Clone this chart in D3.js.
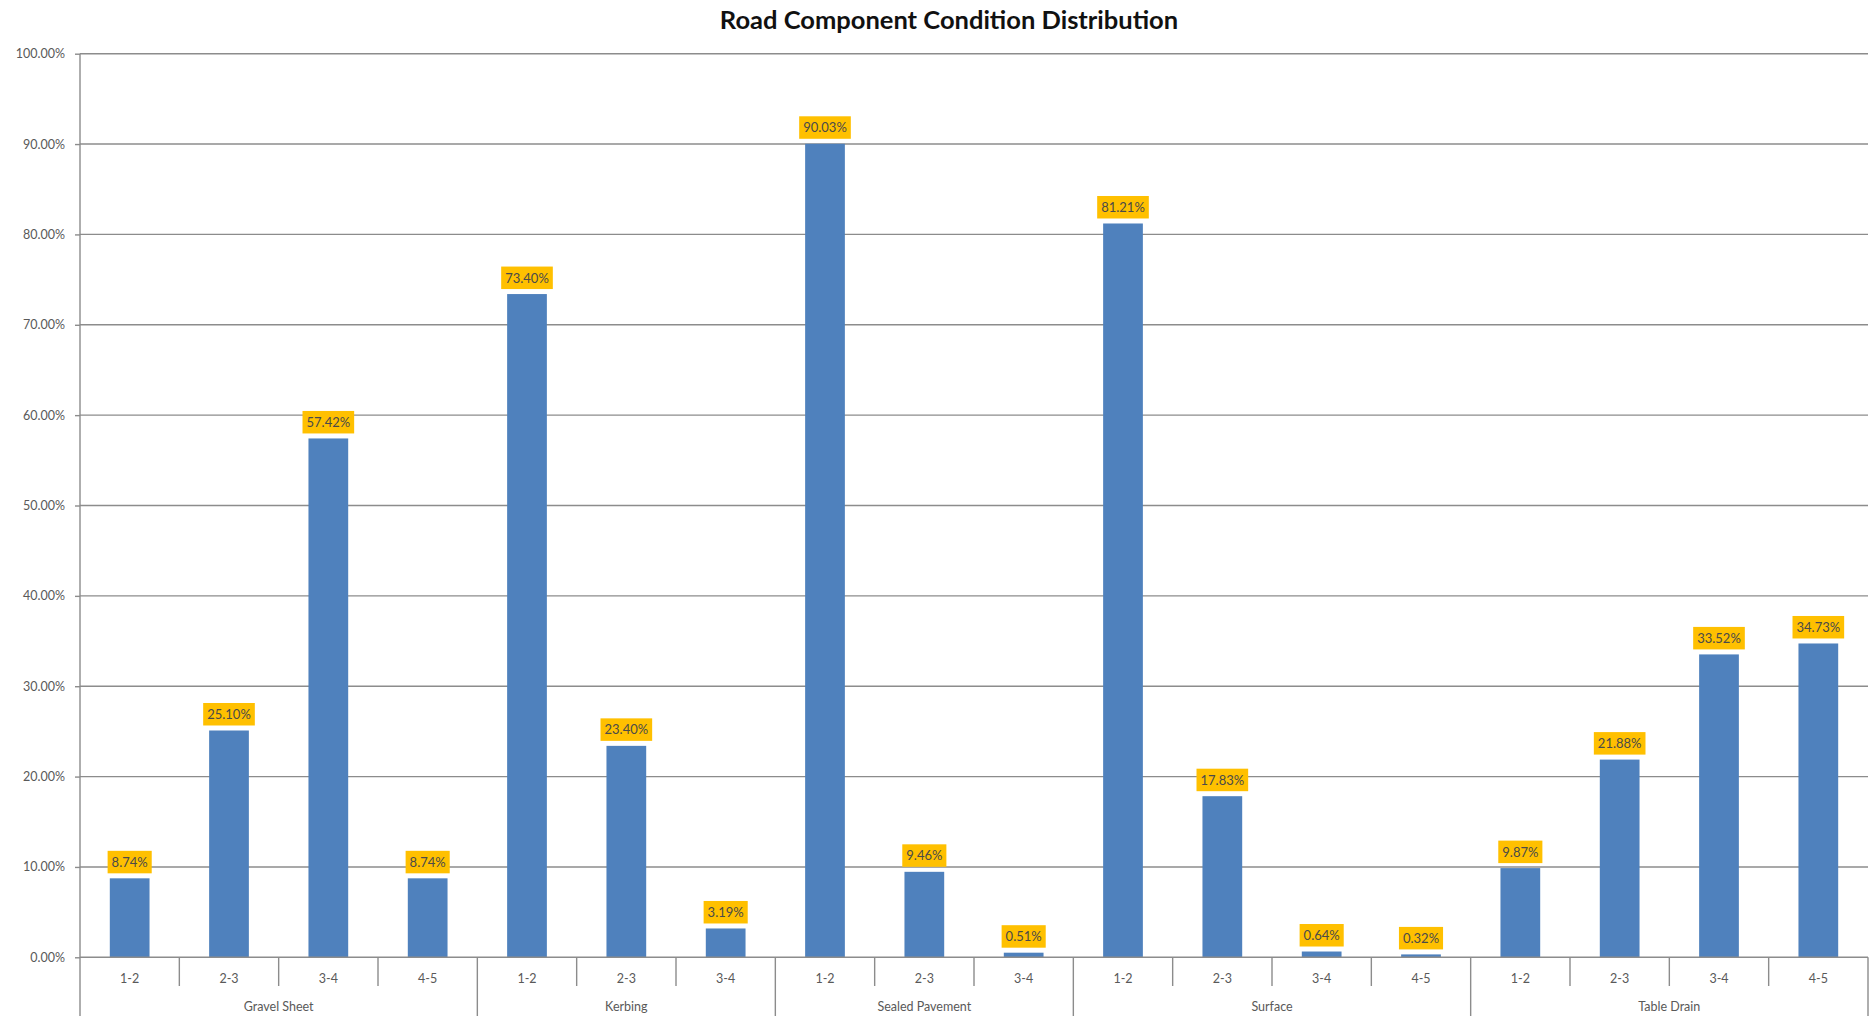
<!DOCTYPE html>
<html><head><meta charset="utf-8">
<script src="https://cdn.jsdelivr.net/npm/d3@7"></script>
<style>
html,body{margin:0;padding:0;background:#fff;}
svg{display:block;}
</style></head>
<body>
<svg id="chart" width="1870" height="1021"></svg>
<script>
const title = "Road Component Condition Distribution";
const groups = ["Gravel Sheet", "Kerbing", "Sealed Pavement", "Surface", "Table Drain"];
const gravelCats = ["1-2", "2-3", "3-4", "4-5"];
const gravelVals = [8.74, 25.10, 57.42, 8.74];
const kerbingCats = ["1-2", "2-3", "3-4"];
const kerbingVals = [73.40, 23.40, 3.19];
const sealedCats = ["1-2", "2-3", "3-4"];
const sealedVals = [90.03, 9.46, 0.51];
const surfaceCats = ["1-2", "2-3", "3-4", "4-5"];
const surfaceVals = [81.21, 17.83, 0.64, 0.32];
const drainCats = ["1-2", "2-3", "3-4", "4-5"];
const drainVals = [9.87, 21.88, 33.52, 34.73];
const yTicks = [0, 10, 20, 30, 40, 50, 60, 70, 80, 90, 100];

const groupCats = [gravelCats, kerbingCats, sealedCats, surfaceCats, drainCats];
const groupVals = [gravelVals, kerbingVals, sealedVals, surfaceVals, drainVals];

const data = [];
groups.forEach((g, gi) => {
  groupCats[gi].forEach((c, ci) => {
    data.push({group: g, cat: c, value: groupVals[gi][ci], key: g + "|" + c});
  });
});

const svg = d3.select("#chart");
const pL = 80, pR = 1868, pT = 53.7, pB = 957.3;
const font = "Lato, 'Open Sans', sans-serif";

const x = d3.scaleBand().domain(data.map(d => d.key)).range([pL, pR])
  .paddingInner(0.6).paddingOuter(0.3);
const step = x.step();
const y = d3.scaleLinear().domain([0, 100]).range([pB, pT]);

// title
svg.append("text").attr("x", 949).attr("y", 29)
  .attr("text-anchor", "middle").attr("font-family", font)
  .attr("font-weight", "bold").attr("font-size", 25.5).attr("fill", "#111")
  .text(title);

// gridlines
svg.append("g").selectAll("line").data(yTicks.filter(t => t > 0)).join("line")
  .attr("x1", pL).attr("x2", pR)
  .attr("y1", d => y(d)).attr("y2", d => y(d))
  .attr("stroke", "#8c8c8c").attr("stroke-width", 1.4);

// y axis
const yAxis = d3.axisLeft(y).tickValues(yTicks).tickSize(5).tickPadding(10)
  .tickFormat(d => d.toFixed(2) + "%");
const ya = svg.append("g").attr("transform", `translate(${pL},0)`).call(yAxis);
ya.select(".domain").remove();
ya.selectAll(".tick line").attr("stroke", "#8c8c8c").attr("stroke-width", 1.4);
ya.selectAll(".tick text").attr("font-family", font).attr("font-size", 12.5)
  .attr("fill", "#595959");

// bars
svg.append("g").selectAll("rect").data(data).join("rect")
  .attr("x", d => x(d.key)).attr("width", x.bandwidth())
  .attr("y", d => y(d.value)).attr("height", d => y(0) - y(d.value))
  .attr("fill", "#4F81BD");

// x axis baseline
svg.append("line").attr("x1", pL).attr("x2", pR).attr("y1", y(0)).attr("y2", y(0))
  .attr("stroke", "#8c8c8c").attr("stroke-width", 1.4);

// separators
const groupStarts = new Set();
let idx = 0;
groupCats.forEach(c => { groupStarts.add(idx); idx += c.length; });
const sepData = d3.range(data.length + 1).map(i => ({i, isGroup: groupStarts.has(i) || i === data.length}));
const boundary = i => pL + i * step;
svg.append("g").selectAll("line").data(sepData).join("line")
  .attr("x1", d => boundary(d.i)).attr("x2", d => boundary(d.i))
  .attr("y1", d => d.i === 0 ? pT : y(0))
  .attr("y2", d => d.isGroup ? 1016 : 986)
  .attr("stroke", "#8c8c8c").attr("stroke-width", 1.4);

// category labels
svg.append("g").selectAll("text").data(data).join("text")
  .attr("x", d => x(d.key) + x.bandwidth() / 2).attr("y", 983)
  .attr("text-anchor", "middle").attr("font-family", font).attr("font-size", 12.5)
  .attr("fill", "#595959").text(d => d.cat);

// group labels
let start = 0;
const groupInfo = groups.map((g, gi) => {
  const n = groupCats[gi].length;
  const info = {g, a: start, b: start + n};
  start += n;
  return info;
});
svg.append("g").selectAll("text").data(groupInfo).join("text")
  .attr("x", d => (boundary(d.a) + boundary(d.b)) / 2).attr("y", 1011)
  .attr("text-anchor", "middle").attr("font-family", font).attr("font-size", 12.5)
  .attr("fill", "#595959").text(d => d.g);

// data labels
const lg = svg.append("g").selectAll("g").data(data).join("g")
  .attr("transform", d => `translate(${x(d.key) + x.bandwidth() / 2},${y(d.value) - 5})`);
lg.append("rect").attr("fill", "#FFC000");
lg.append("text").attr("text-anchor", "middle").attr("y", -6.5)
  .attr("font-family", font).attr("font-size", 13).attr("fill", "#4a4a4a")
  .text(d => d.value.toFixed(2) + "%");
lg.each(function() {
  const g = d3.select(this);
  const w = g.select("text").node().getComputedTextLength() + 8;
  g.select("rect").attr("x", -w / 2).attr("width", w).attr("y", -22.5).attr("height", 22.5);
});
</script>
</body></html>
